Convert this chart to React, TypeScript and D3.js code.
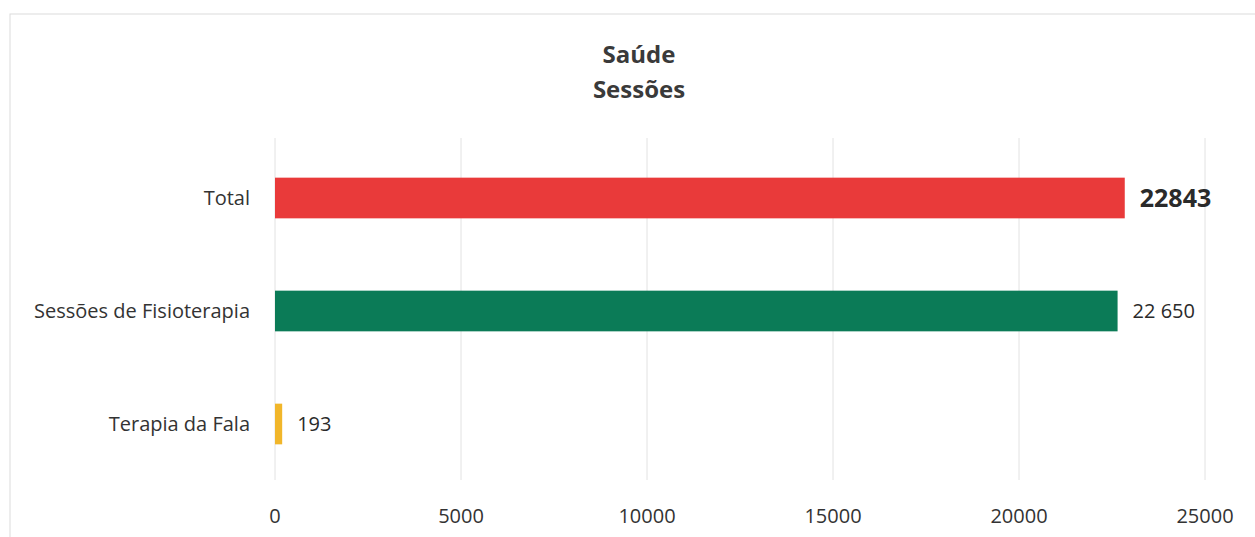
import React from "react";
import * as d3 from "d3";

const categories = ["Total", "Sessões de Fisioterapia", "Terapia da Fala"];
const values = [22843, 22650, 193];
const valueLabels = ["22843", "22 650", "193"];
const colors = ["#e93a3a", "#0b7b57", "#f1b62a"];
const xTicks = [0, 5000, 10000, 15000, 20000, 25000];
const titleLines = ["Saúde", "Sessões"];

export default function App() {
  const W = 1255, H = 537;
  const left = 275, right = 1205, top = 138, bottom = 480;
  const x = d3.scaleLinear().domain([0, 25000]).range([left, right]);
  const y = d3.scaleBand().domain(categories).range([141.5, 480.5]).paddingInner(0.64).paddingOuter(0.32);
  const font = "'Open Sans', 'Noto Sans', sans-serif";
  return (
    <svg width={W} height={H} style={{ position: "absolute", left: 0, top: 0, background: "#fff" }} fontFamily={font}>
      <rect x={10} y={14} width={1260} height={540} fill="none" stroke="#dcdcdc" strokeWidth={1} />
      {titleLines.map((t, i) => (
        <text key={t} x={639} y={63 + i * 35} textAnchor="middle" fontSize={24} fontWeight="bold" fill="#3a3a3a">{t}</text>
      ))}
      {xTicks.map((t) => (
        <g key={t}>
          <line x1={x(t)} x2={x(t)} y1={top} y2={bottom} stroke="#e2e2e2" strokeWidth={1} />
          <text x={x(t)} y={523} textAnchor="middle" fontSize={20} fill="#333">{t}</text>
        </g>
      ))}
      {categories.map((c, i) => {
        const yy = y(c)!;
        const bw = y.bandwidth();
        const bold = i === 0;
        return (
          <g key={c}>
            <rect x={x(0)} y={yy} width={x(values[i]) - x(0)} height={bw} fill={colors[i]} />
            <text x={250} y={yy + bw / 2} dy="0.35em" textAnchor="end" fontSize={20} fill="#333">{c}</text>
            <text x={x(values[i]) + 15} y={yy + bw / 2} dy="0.35em" fontSize={bold ? 25 : 20} fontWeight={bold ? "bold" : "normal"} fill="#2a2a2a">{valueLabels[i]}</text>
          </g>
        );
      })}
    </svg>
  );
}
